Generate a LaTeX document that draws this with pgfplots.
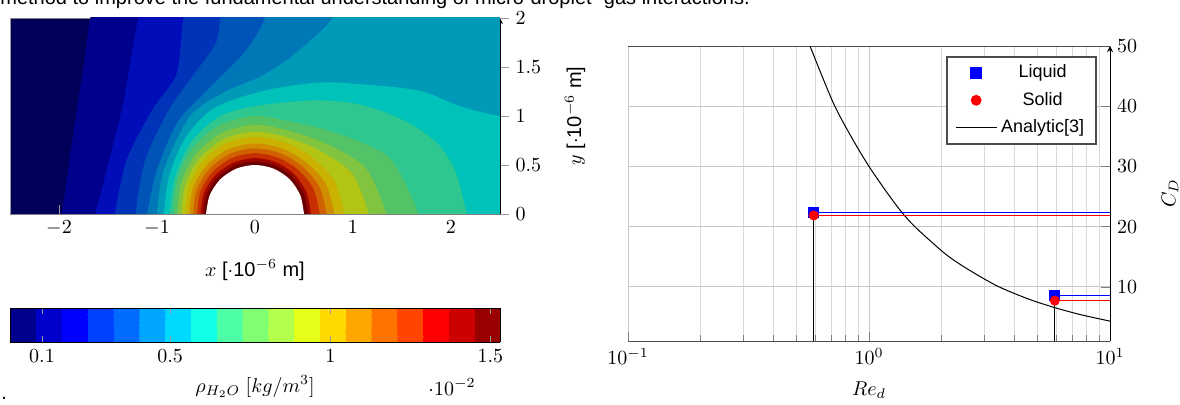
\documentclass[border=0pt]{standalone}
\usepackage{fontspec}
\setmainfont{Liberation Sans}
\usepackage{pgfplots}
\pgfplotsset{compat=1.18}
\usetikzlibrary{calc}

% contour band colours (outer to inner)
\definecolor{c0}{rgb}{0,0,0.35}
\definecolor{c1}{rgb}{0,0,0.55}
\definecolor{c2}{rgb}{0,0.05,0.72}
\definecolor{c3}{rgb}{0,0.2,0.72}
\definecolor{c4}{rgb}{0,0.33,0.72}
\definecolor{c5}{rgb}{0,0.47,0.72}
\definecolor{c6}{rgb}{0,0.6,0.72}
\definecolor{c7}{rgb}{0,0.76,0.72}
\definecolor{c8}{rgb}{0.18,0.78,0.56}
\definecolor{c9}{rgb}{0.33,0.76,0.4}
\definecolor{c10}{rgb}{0.5,0.77,0.25}
\definecolor{c11}{rgb}{0.7,0.77,0.08}
\definecolor{c12}{rgb}{0.8,0.7,0}
\definecolor{c13}{rgb}{0.82,0.55,0}
\definecolor{c14}{rgb}{0.82,0.38,0}
\definecolor{c15}{rgb}{0.78,0.18,0}
\definecolor{c16}{rgb}{0.62,0.02,0}
\definecolor{c17}{rgb}{0.42,0,0}

\begin{document}
\begin{tikzpicture}
\useasboundingbox (0,0) rectangle (590pt,202.5pt);
\node[anchor=base west, inner sep=0pt] at (0pt,200pt)
  {method to improve the fundamental understanding of micro-droplet -gas interactions.};
\node[anchor=base west, inner sep=0pt] at (0.5pt,2.8pt) {.};

% ---- density field ----
\begin{axis}[
  at={(5pt,95.5pt)}, anchor=south west,
  scale only axis, width=245pt, height=98pt,
  xmin=-2.5, xmax=2.5, ymin=0, ymax=2,
  axis y line*=right,
  x axis line style={black!50},
  y axis line style={-stealth},
  xtick={-2,-1,0,1,2}, ytick={0,0.5,1,1.5,2},
  xtick pos=left, xtick align=inside, ytick align=outside,
  tick style={black!40},
  xlabel={$x$ [$\cdot$10$^{-6}$ m]},
  ylabel={$y$ [$\cdot$10$^{-6}$ m]},
  xlabel style={at={(axis description cs:0.5,-0.286)}, anchor=center},
  ylabel style={at={(axis description cs:1.153,0.5)}, anchor=center},
  axis background/.style={fill=c0},
  colormap={cbar}{rgb=(0,0,0.55) rgb=(0,0,0.8) rgb=(0,0,1) rgb=(0,0.25,1)
    rgb=(0,0.42,1) rgb=(0,0.65,1) rgb=(0,0.85,1) rgb=(0.07,1,0.9)
    rgb=(0.3,1,0.65) rgb=(0.5,1,0.45) rgb=(0.7,1,0.3) rgb=(0.9,1,0.1)
    rgb=(1,0.85,0) rgb=(1,0.65,0) rgb=(1,0.45,0) rgb=(1,0.27,0)
    rgb=(1,0,0) rgb=(0.8,0,0) rgb=(0.6,0,0)},
  colormap access=piecewise constant,
  point meta min=0, point meta max=1.53,
  colorbar horizontal,
  colorbar style={
    at={($(parent axis.south west)+(0,-38.5pt)$)}, anchor=north west,
    scale only axis, width=245pt, height=17pt,
    xtick={0.1,0.5,1,1.5},
    tick style={black!40}, major tick length=3pt,
    xlabel={$\rho_{H_2O}$ $[kg/m^3]$},
    extra description/.code={\node at (axis description cs:0.902,-1.32) {$\cdot 10^{-2}$};},
  },
]
\addplot[fill=c1, draw=none, smooth] coordinates {(-1.97,0) (-1.9,0.5) (-1.82,1.06) (-1.75,1.5) (-1.68,2) (-1.58,2.4) (3,2.4) (3,0)};
\addplot[fill=c2, draw=none, smooth] coordinates {(-1.63,0) (-1.5,0.5) (-1.36,1.06) (-1.28,1.5) (-1.19,2) (-1.09,2.4) (3,2.4) (3,0)};
\addplot[fill=c3, draw=none, smooth] coordinates {(-1.43,0) (-1.31,0.55) (-1.05,1.06) (-0.81,1.4) (-0.76,1.7) (-0.73,2) (-0.63,2.4) (3,2.4) (3,0)};
\addplot[fill=c4, draw=none, smooth] coordinates {(-1.22,0) (-1.12,0.55) (-0.88,1.06) (-0.64,1.4) (-0.4,1.74) (-0.35,2) (-0.25,2.4) (3,2.4) (3,0)};
\addplot[fill=c5, draw=none, smooth] coordinates {(-1.1,0) (-1.0,0.45) (-0.78,0.95) (-0.45,1.3) (-0.15,1.6) (0.0,1.8) (0.1,2) (0.2,2.4) (3,2.4) (3,0)};
\addplot[fill=c6, draw=none, smooth] coordinates {(-1.0,0) (-0.93,0.45) (-0.66,1.0) (-0.3,1.25) (0.05,1.4) (0.39,1.62) (0.79,2) (0.89,2.4) (3,2.4) (3,0)};
\addplot[fill=c7, draw=none, smooth] coordinates {(-0.93,0) (-0.88,0.37) (-0.72,0.76) (-0.42,1.08) (0.1,1.26) (0.64,1.34) (1.0,1.33) (1.67,1.26) (2.09,1.1) (2.5,1.0) (3,0.95) (3,0)};
\addplot[fill=c8, draw=none, smooth] coordinates {(-0.87,0) (-0.82,0.36) (-0.66,0.72) (-0.37,0.99) (0,1.1) (0.6,1.16) (1.0,1.13) (1.32,1.04) (1.62,0.9) (1.88,0.7) (2.05,0.42) (2.16,0)};
\addplot[fill=c9, draw=none, smooth] coordinates {(-0.83,0) (-0.798,0.33) (-0.65,0.65) (-0.374,0.902) (0,1.0) (0.388,0.937) (0.826,0.826) (1.375,0.57) (1.67,0)};
\addplot[fill=c10, draw=none, smooth] coordinates {(-0.79,0) (-0.754,0.312) (-0.605,0.605) (-0.342,0.826) (0,0.91) (0.352,0.849) (0.72,0.72) (1.13,0.468) (1.34,0)};
\addplot[fill=c11, draw=none, smooth] coordinates {(-0.75,0) (-0.713,0.295) (-0.566,0.566) (-0.317,0.765) (0,0.84) (0.324,0.782) (0.651,0.651) (0.992,0.411) (1.16,0)};
\addplot[fill=c12, draw=none, smooth] coordinates {(-0.71,0) (-0.675,0.28) (-0.534,0.534) (-0.298,0.72) (0,0.79) (0.303,0.732) (0.58,0.58) (0.811,0.336) (0.91,0)};
\addplot[fill=c13, draw=none, smooth] coordinates {(-0.67,0) (-0.634,0.263) (-0.495,0.495) (-0.273,0.66) (0,0.72) (0.276,0.667) (0.525,0.525) (0.726,0.301) (0.81,0)};
\addplot[fill=c14, draw=none, smooth] coordinates {(-0.63,0) (-0.595,0.247) (-0.463,0.463) (-0.255,0.615) (0,0.67) (0.257,0.62) (0.484,0.484) (0.659,0.273) (0.73,0)};
\addplot[fill=c15, draw=none, smooth] coordinates {(-0.59,0) (-0.557,0.231) (-0.431,0.431) (-0.236,0.57) (0,0.62) (0.238,0.574) (0.446,0.446) (0.6,0.248) (0.66,0)};
\addplot[fill=c16, draw=none, smooth] coordinates {(-0.555,0) (-0.519,0.215) (-0.4,0.4) (-0.218,0.525) (0,0.57) (0.218,0.527) (0.403,0.403) (0.527,0.218) (0.57,0)};
\addplot[fill=c17, draw=none, smooth] coordinates {(-0.525,0) (-0.49,0.204) (-0.377,0.377) (-0.205,0.494) (0,0.535) (0.205,0.495) (0.38,0.38) (0.498,0.206) (0.54,0)};
\addplot[fill=white, draw=none, smooth] coordinates {(-0.5,0) (-0.462,0.191) (-0.354,0.354) (-0.191,0.462) (0,0.5) (0.191,0.462) (0.354,0.354) (0.462,0.191) (0.5,0)};
\draw[black!40] (rel axis cs:0,0) -- (rel axis cs:0,1);
\end{axis}

% ---- drag coefficient ----
\begin{axis}[
  at={(314pt,32pt)}, anchor=south west,
  scale only axis, width=241pt, height=147.5pt,
  xmode=log, xmin=0.1, xmax=10, ymin=1, ymax=50,
  ytick={10,20,30,40,50},
  axis y line*=right,
  x axis line style={black!70},
  y axis line style={-stealth},
  xtick pos=left,
  grid=both,
  major grid style={black!22}, minor grid style={black!15},
  tick style={black!50},
  xlabel={$Re_d$}, ylabel={$C_D$},
  xlabel style={at={(axis description cs:0.5,-0.166)}, anchor=center},
  ylabel style={at={(axis description cs:1.1245,0.5)}, anchor=center},
  legend style={at={(0.973,0.966)}, anchor=north east, font=\small,
    draw=black!70, line width=0.8pt, row sep=1.7pt, inner xsep=4pt},
  legend cell align=center,
  legend image code/.code={\draw[mark repeat=2, mark phase=2, #1]
    plot coordinates {(0cm,0cm) (0.36cm,0cm) (0.72cm,0cm)};},
]
\addplot[black, line width=0.5pt, smooth, forget plot] coordinates {(0.569,50) (0.71,40.6) (0.85,34.7) (1.0,30) (1.2,25.4) (1.373,22.3) (1.54,20.1) (1.8,17.6) (2.13,15.1) (2.6,12.8) (3.4,10.15) (4.5,8.1) (5.83,6.6) (7.6,5.35) (10,4.3)};
\addplot[blue, line width=0.5pt, forget plot] coordinates {(0.59,22.3) (10,22.3)};
\addplot[red, line width=0.5pt, forget plot] coordinates {(0.59,21.85) (10,21.85)};
\addplot[black, line width=0.6pt, forget plot] coordinates {(0.59,1) (0.59,21.85)};
\addplot[blue, line width=0.5pt, forget plot] coordinates {(5.9,8.5) (10,8.5)};
\addplot[red, line width=0.5pt, forget plot] coordinates {(5.9,7.7) (10,7.7)};
\addplot[black, line width=0.6pt, forget plot] coordinates {(5.9,1) (5.9,7.7)};
\addplot[only marks, mark=square*, mark size=2.5pt, blue, mark options={fill=blue, draw=blue}] coordinates {(0.59,22.3) (5.9,8.5)};
\addlegendentry{Liquid}
\addplot[only marks, mark=*, mark size=2.3pt, red, mark options={fill=red, draw=red}] coordinates {(0.59,21.85) (5.9,7.7)};
\addlegendentry{Solid}
\addlegendimage{black, line width=0.5pt}
\addlegendentry{Analytic[3]}
\end{axis}
\end{tikzpicture}
\end{document}
